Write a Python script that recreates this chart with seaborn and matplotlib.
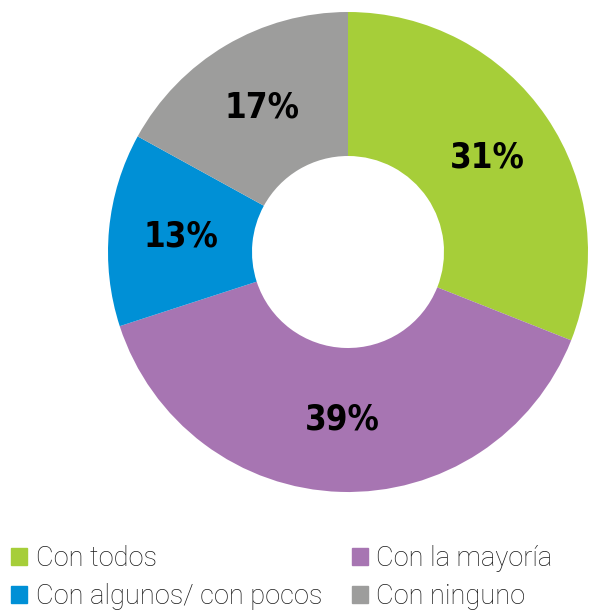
import matplotlib
matplotlib.use('Agg')
import matplotlib.pyplot as plt
import matplotlib.patches as mpatches
import seaborn as sns

# data
categories = ['Con todos', 'Con la mayoría', 'Con algunos/ con pocos', 'Con ninguno']
shares = [31, 39, 13, 17]
colors = ['#A6CE39', '#A775B2', '#0090D6', '#9D9D9C']
# legend fills column by column, so this gives rows: todos | mayoría, algunos | ninguno
legend_order = [0, 2, 1, 3]

sns.set_theme(style='white')
plt.rcParams['font.family'] = ['Roboto', 'DejaVu Sans']

palette = sns.color_palette(colors)

fig = plt.figure(figsize=(5.93, 6.10), dpi=100)
# donut: centre (348, 252) px, outer radius 240 px
ax = fig.add_axes([108 / 593, 118 / 610, 480 / 593, 480 / 610])
wedges, texts, autotexts = ax.pie(
    shares, colors=palette, startangle=90, counterclock=False,
    autopct='%d%%', pctdistance=0.7, radius=1,
    wedgeprops=dict(width=0.6, edgecolor='none'))
for t in autotexts:
    t.set_fontfamily(['DejaVu Sans'])
    t.set_fontstretch('condensed')
    t.set_fontweight('bold')
    t.set_fontsize(25)
    t.set_color('black')
ax.set_xlim(-1, 1)
ax.set_ylim(-1, 1)
ax.set_aspect('equal')
ax.axis('off')

# legend in two columns at the bottom
handles = [mpatches.Patch(color=palette[i], label=categories[i]) for i in legend_order]
leg = fig.legend(handles=handles, loc='upper left', bbox_to_anchor=(11 / 593, 1 - 545 / 610),
                 ncol=2, frameon=False, borderpad=0, borderaxespad=0,
                 handlelength=0.6, handleheight=0.6, handletextpad=0.3,
                 labelspacing=0.42, columnspacing=1.1,
                 prop=dict(family=['Roboto', 'DejaVu Sans'], weight='light', size=19.6))
for txt in leg.get_texts():
    txt.set_color('#1a1a1a')

fig.savefig('out.png', dpi=100, facecolor='white')
